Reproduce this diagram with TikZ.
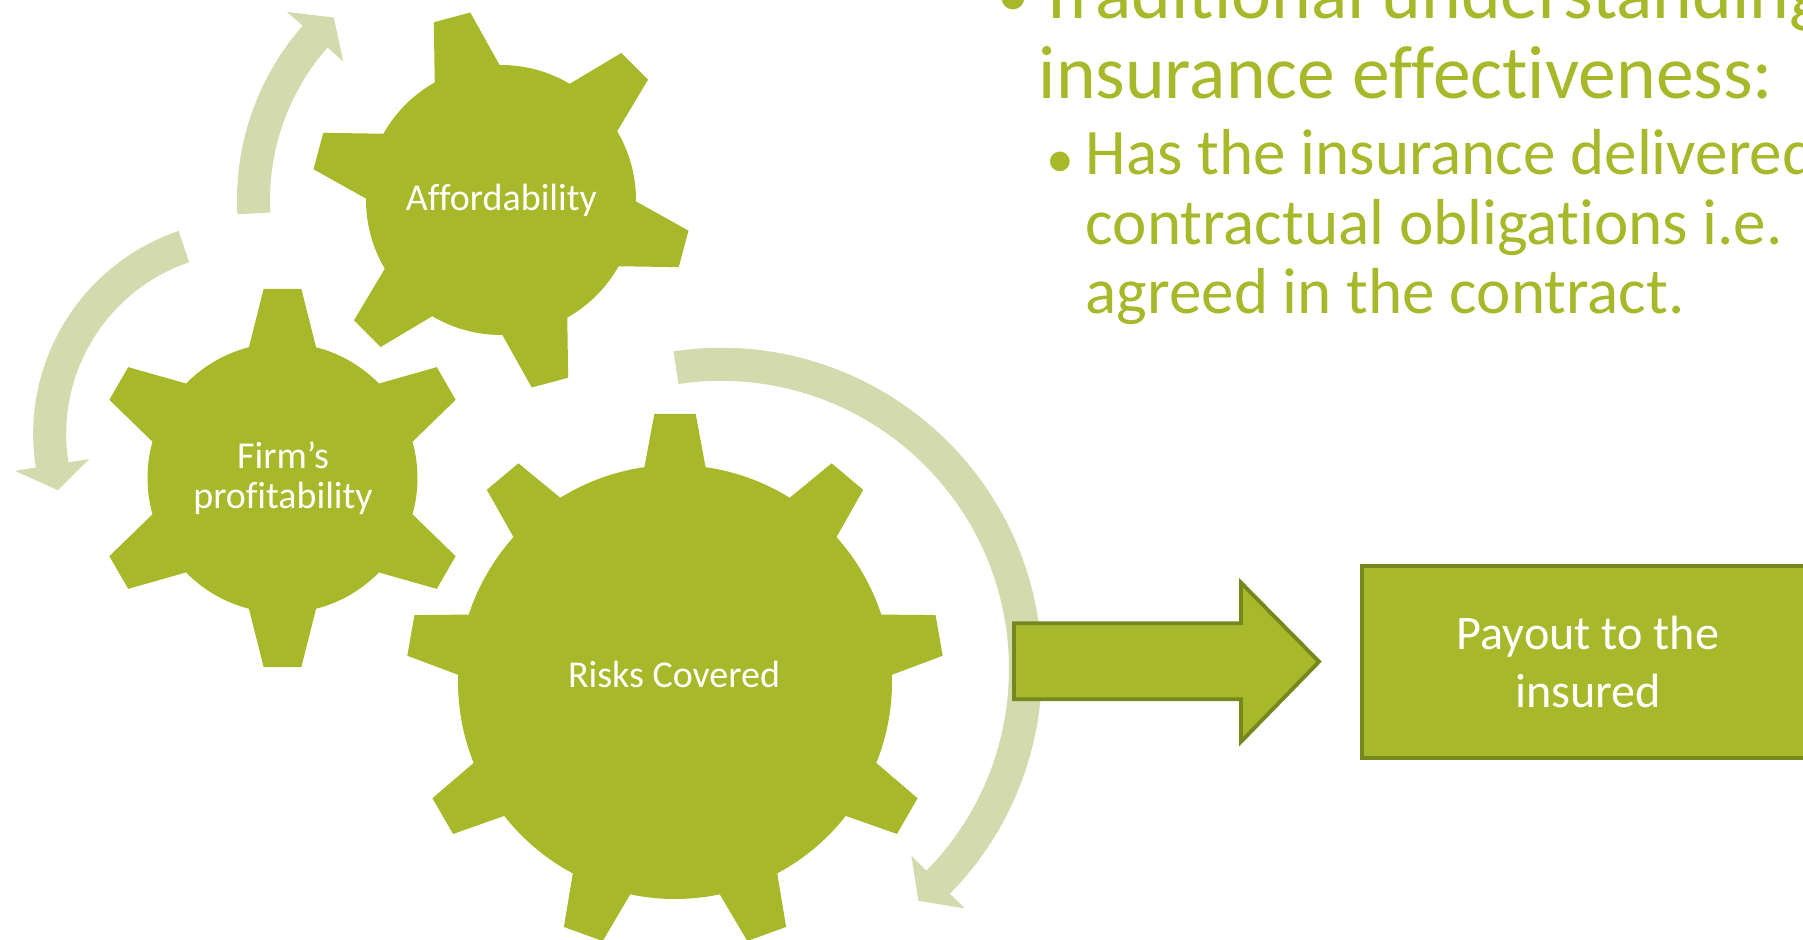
\documentclass[tikz,border=0pt]{standalone}
\usepackage{fontspec}
\setmainfont{Carlito}[Ligatures=NoCommon]
\definecolor{gearGreen}{RGB}{167,185,42}
\definecolor{arcGreen}{RGB}{211,218,174}
\definecolor{edgeGreen}{RGB}{118,135,30}
\begin{document}
\begin{tikzpicture}[x=0.01cm,y=0.01cm]
\tikzstyle{every node}+=[inner sep=0pt]
\tikzstyle{gear}=[fill=gearGreen]
\tikzstyle{arcarrow}=[fill=arcGreen]
\tikzstyle{gearlabel}=[text=white,align=center,font=\fontsize{10.8}{11.5}\selectfont]
\tikzstyle{bodytext}=[text=gearGreen,anchor=base west]
\tikzstyle{mainsize}=[font=\fontsize{21.5}{22.8}\selectfont]
\tikzstyle{subsize}=[font=\fontsize{18.5}{19.6}\selectfont]
\tikzstyle{dot}=[text=gearGreen,anchor=base]
\useasboundingbox (0,0) rectangle (1803,939);
\clip (0,0) rectangle (1803,939);
\begin{scope}[shift={(501,739)}]
\fill[arcarrow] (183.1:264) arc[start angle=183.1,end angle=138.7,radius=264] -- (138.7:285) -- (132.5:247.5) -- (138.7:210) -- (138.7:231) arc[start angle=138.7,end angle=183.1,radius=231] -- cycle;
\end{scope}
\begin{scope}[shift={(247.7,505)}]
\fill[arcarrow] (108.8:214.5) arc[start angle=108.8,end angle=189,radius=214.5] -- (189:235.5) -- (196.5:198) -- (189:160.5) -- (189:181.5) arc[start angle=189,end angle=108.8,radius=181.5] -- cycle;
\end{scope}
\begin{scope}[shift={(721,270.2)}]
\fill[arcarrow] (98.5:321) arc[start angle=98.5,end angle=-44.5,radius=321] -- (-44.5:342) -- (-49.6:304.5) -- (-44.5:267) -- (-44.5:288) arc[start angle=-44.5,end angle=98.5,radius=288] -- cycle;
\end{scope}
\begin{scope}[shift={(501,739)}]
\fill[gear] (30.6:135) \foreach \a in {45,105,...,345} { -- (\a-14.4:135) -- (\a-5.7:190) -- (\a+5.7:190) -- (\a+14.4:135) arc[start angle=\a+14.4,end angle=\a+45.6,radius=135] } -- cycle;
\end{scope}
\begin{scope}[shift={(282.5,461)}]
\fill[gear] (15.6:135) \foreach \a in {30,90,...,330} { -- (\a-14.4:135) -- (\a-5.7:190) -- (\a+5.7:190) -- (\a+14.4:135) arc[start angle=\a+14.4,end angle=\a+45.6,radius=135] } -- cycle;
\end{scope}
\begin{scope}[shift={(675,257)}]
\fill[gear] (1.9:217) \foreach \a in {10,50,...,330} { -- (\a-8.1:217) -- (\a-4.4:269) -- (\a+4.4:269) -- (\a+8.1:217) arc[start angle=\a+8.1,end angle=\a+31.9,radius=217] } -- cycle;
\end{scope}
\node[gearlabel,anchor=base] (afford) at (501.4,728.3) {Affordability};
\node[gearlabel] (firm) at (283,461) {Firm’s\\profitability};
\node[gearlabel,anchor=base] (risks) at (674,251.7) {Risks Covered};
\draw[gear,draw=edgeGreen,line width=1.1pt] (1014,315.7) -- (1241,315.7) -- (1241,356.3) -- (1319,277.3) -- (1241,197.3) -- (1241,239.7) -- (1014,239.7) -- cycle;
\node[gear,draw=edgeGreen,line width=1.1pt,minimum width=4.52cm,minimum height=1.92cm,text=white,align=center,font=\fontsize{13.7}{16.3}\selectfont] (payout) at (1588,277) {Payout to the\\insured};
\node[dot,font=\fontsize{18.2}{20}\selectfont] (dot1) at (1013.7,922.2) {•};
\node[bodytext,mainsize] (trad) at (1038,920.7) {Traditional understanding};
\node[bodytext,mainsize] (effect) at (1038,840.7) {insurance effectiveness:};
\node[dot,font=\fontsize{15.8}{17}\selectfont] (dot2) at (1060,761.8) {•};
\node[bodytext,subsize] (has) at (1085,764) {Has the insurance delivered};
\node[bodytext,subsize] (contract) at (1085,694) {contractual obligations i.e.};
\node[bodytext,subsize] (agreed) at (1085,625.7) {agreed in the contract.};
\end{tikzpicture}
\end{document}
